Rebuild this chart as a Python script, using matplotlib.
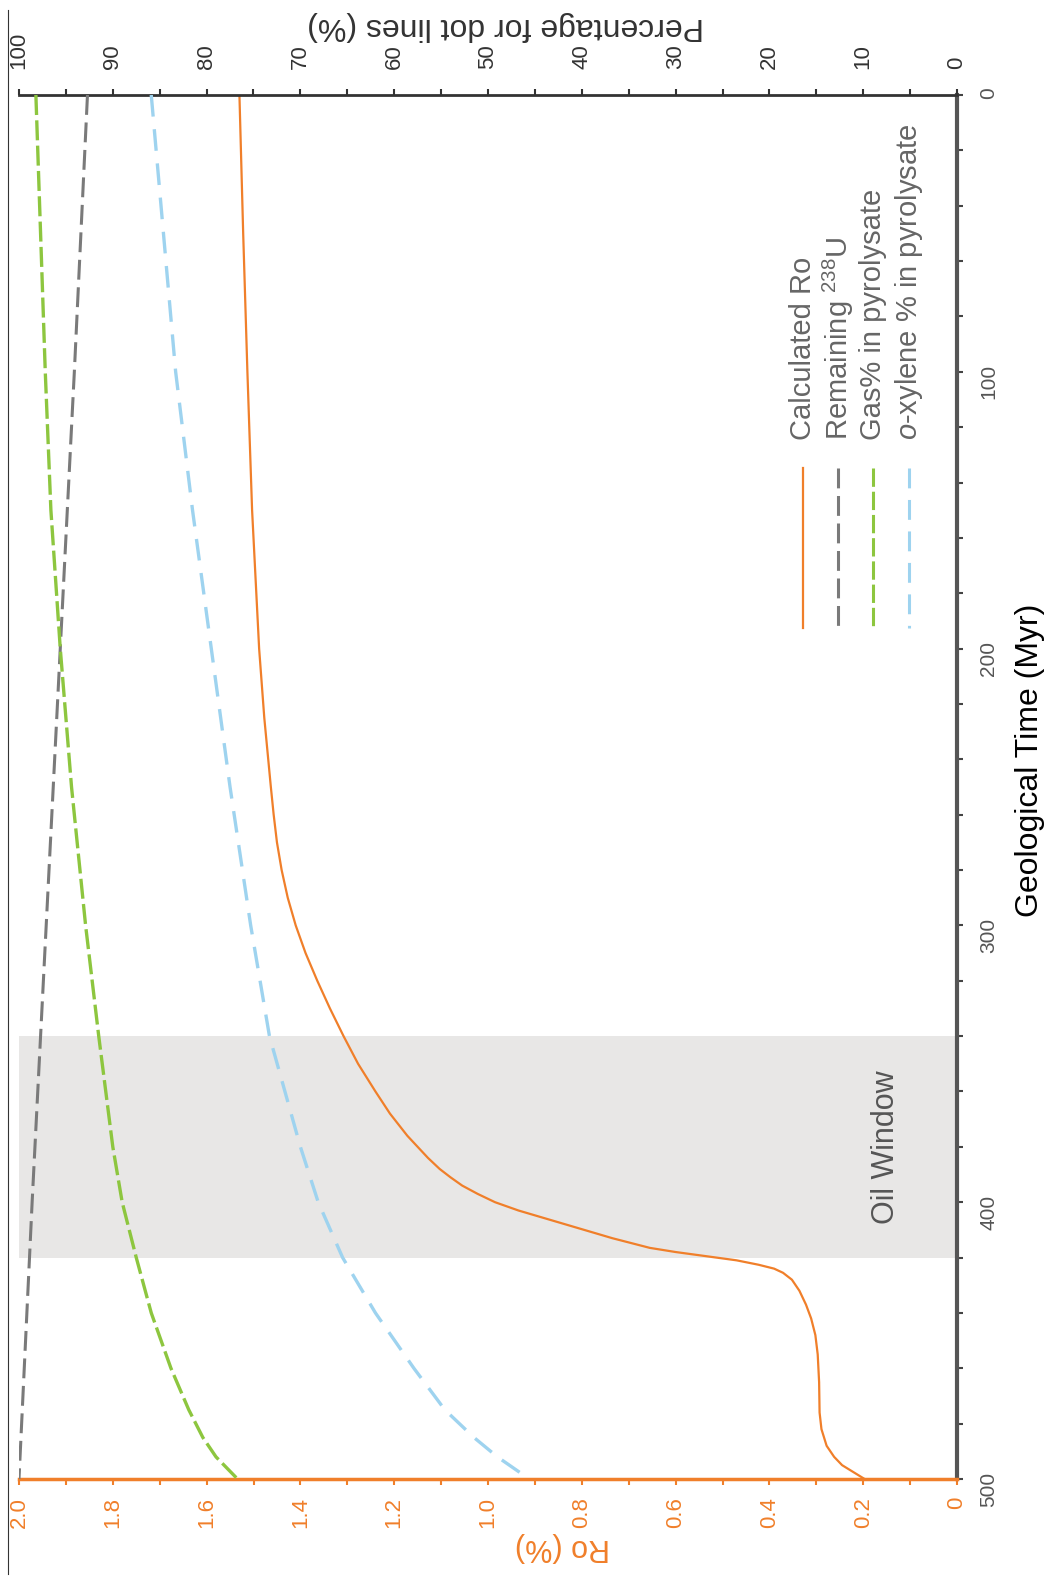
import numpy as np
import matplotlib.pyplot as plt
from matplotlib.ticker import MultipleLocator
from matplotlib.lines import Line2D

# tick labels in the narrow face, everything else in the regular one
plt.rcParams['font.family'] = ['Liberation Sans Narrow', 'Liberation Sans', 'DejaVu Sans']
plt.rcParams['mathtext.fontset'] = 'custom'
plt.rcParams['mathtext.rm'] = 'Liberation Sans'
plt.rcParams['mathtext.it'] = 'Liberation Sans:italic'
REG = ['Liberation Sans', 'DejaVu Sans']

# calculated Ro (%) against geological time (Myr)
t_ro = [0, 50, 100, 150, 200, 225, 250, 260, 270, 280, 290, 300, 310, 320, 330, 340,
        350, 360, 368, 376, 384, 388, 391, 394, 397, 400, 403, 406, 410, 413, 416.5, 418,
        419.5, 421, 422.6, 424, 425.5, 428, 432, 437, 442, 448, 455, 465, 476, 482,
        488, 492, 495, 500]
ro = [1.53, 1.522, 1.513, 1.503, 1.488, 1.477, 1.463, 1.457, 1.450, 1.440, 1.427, 1.410,
      1.389, 1.364, 1.337, 1.308, 1.277, 1.240, 1.209, 1.172, 1.128, 1.103, 1.080, 1.055,
      1.022, 0.985, 0.935, 0.875, 0.795, 0.735, 0.655, 0.60, 0.535, 0.47, 0.423, 0.39,
      0.371, 0.352, 0.336, 0.322, 0.311, 0.302, 0.297, 0.294, 0.293, 0.289, 0.278, 0.262,
      0.245, 0.197]

# remaining 238U (%)
t_u = [0, 100, 200, 300, 400, 500]
u238 = [92.7, 94.1, 95.6, 97.1, 98.6, 100.0]

# gas % and o-xylene % in pyrolysate
t_pct = [0, 50, 100, 150, 200, 250, 300, 340, 380, 400, 420, 440, 460, 475, 485, 492, 500]
gas = [98.2, 97.7, 97.2, 96.6, 95.6, 94.4, 92.9, 91.5, 90.0, 89.0, 87.5, 85.9, 83.8, 81.9, 80.4, 79.0, 76.7]
xylene = [85.9, 84.6, 83.3, 81.5, 79.5, 77.5, 75.3, 73.3, 70.0, 68.1, 65.5, 62.0, 57.9, 54.6, 51.5, 49.0, 45.6]

oil_window = (340, 420)

orange = '#F07F2A'
gray = '#7A7A7A'
green = '#8DC63F'
blue = '#9ED3EF'
dash_u, dash_gas, dash_xyl = (6.5, 2.5), (6, 1.6), (6.5, 3.8)

W, H = 1052, 1578
fig = plt.figure(figsize=(W / 100, H / 100), dpi=100)
L, R, T, B = 19, 957, 95, 1479
ax = fig.add_axes([L / W, 1 - B / H, (R - L) / W, (B - T) / H])

def fx(px):
    return px / W

def fy(py):
    return 1 - py / H

# Ro axis (bottom, reversed) and time axis (right, downward)
ax.set_xlim(2.0, 0)
ax.set_ylim(500, 0)
ax.axhspan(oil_window[0], oil_window[1], color='#E8E7E6', lw=0, zorder=0)
ax.plot(ro, t_ro, color=orange, lw=1.6, zorder=3)

ax.xaxis.set_major_locator(MultipleLocator(0.2))
ax.xaxis.set_minor_locator(MultipleLocator(0.1))
ax.xaxis.set_major_formatter(lambda v, p: '0' if abs(v) < 1e-9 else f'{v:.1f}')
ax.tick_params(axis='x', which='both', colors=orange, length=4, width=1.5, direction='out',
               labelrotation=90, labelsize=16, pad=9)

ax.yaxis.tick_right()
ax.yaxis.set_label_position('right')
ax.yaxis.set_major_locator(MultipleLocator(100))
ax.yaxis.set_minor_locator(MultipleLocator(20))
ax.tick_params(axis='y', which='both', colors='#444444', length=4, width=1.5, direction='out',
               labelrotation=90, labelsize=15, pad=12, labelcolor='#555555')

for s in ['left', 'top']:
    ax.spines[s].set_visible(False)
ax.spines['bottom'].set_color(orange)
ax.spines['bottom'].set_linewidth(2.5)
ax.spines['right'].set_color('#555555')
ax.spines['right'].set_linewidth(3)

ax.set_xlabel('Ro (%)', color=orange, fontsize=22, rotation=180, family=REG)
ax.xaxis.set_label_coords((562 - L) / (R - L), -(1532 - B) / (B - T))
ax.set_ylabel('Geological Time (Myr)', fontsize=23, rotation=90, family=REG)
ax.yaxis.set_label_coords((1015 - L) / (R - L), 1 - (760 - T) / (B - T))

ax.text(0.152, 380, 'Oil Window', rotation=90, ha='center', va='center',
        fontsize=22, color='#555555', zorder=4, family=REG)

# percentage axis (top, reversed)
ax2 = ax.twiny()
ax2.set_xlim(100, 0)
ax2.plot(u238, t_u, color=gray, lw=2.2, dashes=dash_u, zorder=3)
ax2.plot(gas, t_pct, color=green, lw=2.4, dashes=dash_gas, zorder=3)
ax2.plot(xylene, t_pct, color=blue, lw=2.4, dashes=dash_xyl, zorder=3)
ax2.xaxis.set_major_locator(MultipleLocator(10))
ax2.xaxis.set_minor_locator(MultipleLocator(5))
ax2.tick_params(axis='x', which='both', colors='#333333', length=4, width=1.5, direction='out',
                labelrotation=90, labelsize=16, pad=14.5)
for s in ['left', 'right', 'bottom']:
    ax2.spines[s].set_visible(False)
ax2.spines['top'].set_color('#333333')
ax2.spines['top'].set_linewidth(2)
ax2.set_xlabel('Percentage for dot lines (%)', fontsize=23, color='#333333', rotation=180, family=REG)
ax2.xaxis.set_label_coords((506 - L) / (R - L), 1 + (T - 34) / (B - T))

# legend, drawn rotated like the rest of the chart
entries = [
    ('Calculated Ro', orange, None, 803),
    (r'Remaining $^{\mathrm{238}}$U', gray, dash_u, 838),
    ('Gas% in pyrolysate', green, dash_gas, 873),
    (r'$\mathit{o}$-xylene % in pyrolysate', blue, dash_xyl, 909),
]
for label, col, dash, xp in entries:
    ln = Line2D([fx(xp), fx(xp)], [fy(468), fy(628)], transform=fig.transFigure,
                color=col, lw=1.6 if dash is None else 2.2)
    if dash is not None:
        ln.set_dashes(dash)
    fig.add_artist(ln)
    fig.text(fx(xp), fy(440), label, rotation=90, rotation_mode='anchor',
             ha='left', va='center', fontsize=21, color='#666666', family=REG)

# thin frame edge on the left of the scan
fig.add_artist(Line2D([fx(8), fx(8)], [fy(1574), fy(10)], transform=fig.transFigure,
                      color='#333333', lw=0.8))

fig.savefig('out.png', dpi=100)
